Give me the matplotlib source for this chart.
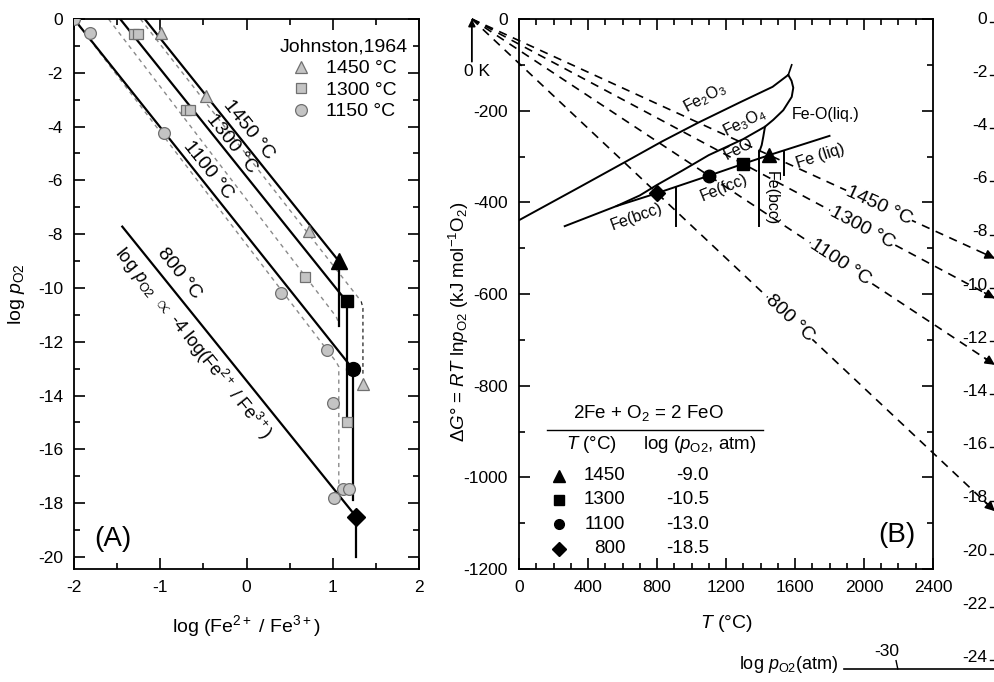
import numpy as np
import matplotlib
matplotlib.use('Agg')
import matplotlib.pyplot as plt
from matplotlib.ticker import MultipleLocator

plt.rcParams['font.family'] = ['Liberation Sans', 'DejaVu Sans']
plt.rcParams['mathtext.fontset'] = 'custom'
plt.rcParams['mathtext.rm'] = 'Liberation Sans'
plt.rcParams['mathtext.it'] = 'Liberation Sans:italic'
plt.rcParams['mathtext.bf'] = 'Liberation Sans:bold'
plt.rcParams['axes.linewidth'] = 1.3
plt.rcParams['axes.unicode_minus'] = False

# ---------------- Panel A data ----------------
line_labels = ['1450 °C', '1300 °C', '1100 °C', '800 °C']
solid_x0 = [-1.18, -1.465, -2.0, -1.44]
solid_y0 = [0.0, 0.0, 0.0, -7.72]
solid_x1 = [1.07, 1.16, 1.23, 1.27]
solid_y1 = [-9.0, -10.5, -13.0, -18.5]
bar_bottom = [-11.4, -15.0, -17.9, -20.0]
black_markers = ['^', 's', 'o', 'D']

tri_x = [-0.99, -0.47, 0.72, 1.35]
tri_y = [-0.53, -2.85, -7.87, -13.57]
sq_x = [-1.30, -1.26, -0.70, -0.65, 0.68, 1.16]
sq_y = [-0.57, -0.57, -3.39, -3.39, -9.58, -15.0]
ci_x = [-2.0, -1.82, -0.96, 0.40, 0.93, 1.0, 1.12, 1.19, 1.01]
ci_y = [0.0, -0.53, -4.25, -10.2, -12.3, -14.26, -17.47, -17.47, -17.82]

guide1450_x = [-1.23, 1.33]
guide1450_y = [0.0, -10.5]
guide1450v_x = [1.33, 1.35, 1.35]
guide1450v_y = [-10.5, -10.75, -13.3]
guide1300_x = [-1.6, 1.04, 1.07]
guide1300_y = [0.0, -11.07, -11.3]
guide1150_x = [-2.0, 1.04, 1.07, 1.07]
guide1150_y = [0.0, -12.75, -12.93, -17.4]

legend_labels = ['1450 °C', '1300 °C', '1150 °C']

# ---------------- Panel B data ----------------
T_pts = [1450, 1300, 1100, 800]
logp_pts = [-9.0, -10.5, -13.0, -18.5]
B_line_labels = ['1450 °C', '1300 °C', '1100 °C', '800 °C']
B_label_T = [2087, 1988, 1861, 1571]

upper_T = [0, 350, 620, 830, 1040, 1280, 1470, 1561]
upper_G = [-439, -367, -311, -267, -226, -182, -148, -122]
liq_T = [1561, 1580, 1590, 1581, 1532, 1474, 1426, 1416, 1407, 1393]
liq_G = [-122, -135, -150, -170, -199, -220, -235, -257, -275, -290]
mid_T = [566, 700, 800, 950, 1100, 1300, 1426]
mid_G = [-408, -385, -362, -330, -297, -262, -235]
low_T = [265, 566, 800, 1100, 1300, 1450, 1800]
low_G = [-452, -408, -380, -342, -316, -297, -255]
trans_T = [912, 1393, 1538]
trans_Gtop = [-366, -290, -290]
trans_Gbot = [-452, -452, -340]

right_scale = list(range(0, -26, -2))

R = 8.314e-3
LN10 = np.log(10.0)

W, H = 995, 682
fig = plt.figure(figsize=(W / 100, H / 100), dpi=100)

def ax_rect(l, r, t, b):
    return [l / W, (H - b) / H, (r - l) / W, (b - t) / H]

axA = fig.add_axes(ax_rect(74, 419, 19, 569))
axB = fig.add_axes(ax_rect(519, 933, 19, 569))

TICK_FS = 12.5

# ================= Panel A =================
axA.set_xlim(-2, 2)
axA.set_ylim(-20.45, 0)

gray_face = '#c4c4c4'
gray_edge = '#707070'

axA.plot(guide1450_x, guide1450_y, ls=(0, (3, 3)), color='#8a8a8a', lw=1.0, zorder=1)
axA.plot(guide1450v_x, guide1450v_y, ls=(0, (3, 2.5)), color='#222222', lw=0.9, zorder=1)
axA.plot(guide1300_x, guide1300_y, ls=(0, (3, 3)), color='#8a8a8a', lw=1.0, zorder=1)
axA.plot(guide1150_x, guide1150_y, ls=(0, (3, 3)), color='#8a8a8a', lw=1.0, zorder=1)

for i in range(4):
    axA.plot([solid_x0[i], solid_x1[i]], [solid_y0[i], solid_y1[i]], color='k', lw=1.6, zorder=2)
    axA.plot([solid_x1[i], solid_x1[i]], [solid_y1[i], bar_bottom[i]], color='k', lw=1.6, zorder=2)

h1, = axA.plot(tri_x, tri_y, ls='none', marker='^', ms=9, mfc=gray_face, mec=gray_edge, mew=0.9, zorder=3)
h2, = axA.plot(sq_x, sq_y, ls='none', marker='s', ms=7.5, mfc=gray_face, mec=gray_edge, mew=0.9, zorder=3)
h3, = axA.plot(ci_x, ci_y, ls='none', marker='o', ms=8.5, mfc=gray_face, mec=gray_edge, mew=0.9, zorder=3)

for i in range(4):
    ms = {'^': 11, 's': 9, 'o': 10, 'D': 9}[black_markers[i]]
    axA.plot([solid_x1[i]], [solid_y1[i]], ls='none', marker=black_markers[i], ms=ms,
             mfc='k', mec='k', zorder=4)

leg = axA.legend([h1, h2, h3], legend_labels, title='Johnston,1964', loc='upper right',
                 bbox_to_anchor=(1.0, 0.985), frameon=False, fontsize=14, title_fontsize=14,
                 handletextpad=0.7, labelspacing=0.2, borderaxespad=0.2, handlelength=1.2,
                 alignment='center')

fig.canvas.draw()
p0 = axA.transData.transform((0, 0))
p1 = axA.transData.transform((1, -4))
angA = np.degrees(np.arctan2(p1[1] - p0[1], p1[0] - p0[0]))

lab_xy = [(0.03, -4.13), (-0.176, -4.62), (-0.44, -5.61), (-0.775, -9.45)]
for (x, y), t in zip(lab_xy, line_labels):
    axA.text(x, y, t, rotation=angA, rotation_mode='anchor', ha='center', va='center', fontsize=14)
axA.text(-0.62, -12.06, r'log $p_{\mathrm{O2}}$ $\propto$ -4 log(Fe$^{2+}$ / Fe$^{3+}$)',
         rotation=angA, rotation_mode='anchor', ha='center', va='center', fontsize=13)
axA.text(-1.55, -19.35, '(A)', fontsize=20, ha='center', va='center')

axA.set_xticks([-2, -1, 0, 1, 2])
axA.xaxis.set_minor_locator(MultipleLocator(0.5))
axA.set_yticks(np.arange(0, -21, -2))
axA.yaxis.set_minor_locator(MultipleLocator(1))
axA.tick_params(which='both', direction='in', top=True, right=True, labelsize=TICK_FS, width=1.2)
axA.tick_params(which='major', length=8, pad=8)
axA.tick_params(which='minor', length=4)
axA.set_xlabel(r'log (Fe$^{2+}$ / Fe$^{3+}$)', fontsize=14, labelpad=13)
axA.set_ylabel(r'log $p_{\mathrm{O2}}$', fontsize=14)
axA.yaxis.set_label_coords(-0.135, 0.5)

# ================= Panel B =================
axB.set_xlim(0, 2400)
axB.set_ylim(-1200, 0)

T_end = 2759.0
T0K = -273.15
G_pts = [R * (t + 273.15) * LN10 * lp for t, lp in zip(T_pts, logp_pts)]

fig.canvas.draw()
for i in range(4):
    lp = logp_pts[i]
    Gend = R * (T_end + 273.15) * LN10 * lp
    axB.plot([T0K, T_end], [0, Gend], color='k', lw=1.2, ls=(0, (5, 4)), clip_on=False, zorder=2)
    Tb = T_end - 60
    Gb = R * (Tb + 273.15) * LN10 * lp
    axB.annotate('', xy=(T_end, Gend), xytext=(Tb, Gb), annotation_clip=False,
                 arrowprops=dict(arrowstyle='-|>', color='k', lw=1.2, mutation_scale=14,
                                 shrinkA=0, shrinkB=0))
    Tl = B_label_T[i]
    Gl = R * (Tl + 273.15) * LN10 * lp
    q0 = axB.transData.transform((T0K, 0))
    q1 = axB.transData.transform((T_end, Gend))
    ang = np.degrees(np.arctan2(q1[1] - q0[1], q1[0] - q0[0]))
    axB.text(Tl, Gl, B_line_labels[i], rotation=ang, rotation_mode='anchor', ha='center',
             va='center', fontsize=14, zorder=5,
             bbox=dict(facecolor='white', edgecolor='none', pad=0.5))

axB.plot(upper_T, upper_G, color='k', lw=1.4, zorder=3)
axB.plot([1561, 1581], [-122, -100], color='k', lw=1.2, zorder=3)
axB.plot(liq_T, liq_G, color='k', lw=1.4, zorder=3)
axB.plot(mid_T, mid_G, color='k', lw=1.4, zorder=3)
axB.plot(low_T, low_G, color='k', lw=1.4, zorder=3)
for t, g0, g1 in zip(trans_T, trans_Gtop, trans_Gbot):
    axB.plot([t, t], [g0, g1], color='k', lw=1.4, zorder=3)

for t, g, m in zip(T_pts, G_pts, black_markers):
    ms = {'^': 10, 's': 8.5, 'o': 9, 'D': 8.5}[m]
    axB.plot([t], [g], ls='none', marker=m, ms=ms, color='k', zorder=6)

axB.text(1078, -173, r'Fe$_2$O$_3$', rotation=28, ha='center', va='center', fontsize=11.5)
axB.text(1310, -225, r'Fe$_3$O$_4$', rotation=26, ha='center', va='center', fontsize=11.5)
axB.text(1271, -284, 'FeO', rotation=27, ha='center', va='center', fontsize=11.5)
axB.text(1776, -209, 'Fe-O(liq.)', ha='center', va='center', fontsize=11.5)
axB.text(1746, -300, 'Fe (liq)', rotation=18, ha='center', va='center', fontsize=11.5)
axB.text(682, -431, 'Fe(bcc)', rotation=20, ha='center', va='center', fontsize=11.5)
axB.text(1186, -369, 'Fe(fcc)', rotation=22, ha='center', va='center', fontsize=11.5)
axB.text(1464, -391, 'Fe(bcc)', rotation=270, ha='center', va='center', fontsize=11.5)

axB.annotate('', xy=(T0K, 0), xytext=(T0K, -93), annotation_clip=False,
             arrowprops=dict(arrowstyle='-|>', color='k', lw=1.3, mutation_scale=10,
                             shrinkA=0, shrinkB=0))
axB.text(-243, -115, '0 K', ha='center', va='center', fontsize=12.5, clip_on=False)

for v in right_scale:
    g = R * (T_end + 273.15) * LN10 * v
    axB.plot([T_end - 30, T_end], [g - 6, g - 6], color='k', lw=1.0, clip_on=False)
    axB.text(T_end - 45, g, f'{v}', ha='right', va='center', fontsize=12.5, clip_on=False)

G_bot = -1418
axB.plot([1884, T_end + 10], [G_bot, G_bot], color='k', lw=1.2, clip_on=False)
T30 = -G_bot / (R * LN10 * 30) - 273.15
axB.plot([T30, T30 - 10], [G_bot, G_bot + 18], color='k', lw=1.0, clip_on=False)
axB.text(2130, -1381, '-30', ha='center', va='center', fontsize=12.5, clip_on=False)
axB.text(1849, -1409, r'log $p_{\mathrm{O2}}$(atm)', ha='right', va='center', fontsize=13, clip_on=False)

axB.text(752, -860, r'2Fe + O$_2$ = 2 FeO', ha='center', va='center', fontsize=13.5)
axB.plot([162, 1414], [-897, -897], color='k', lw=1.0)
axB.text(423, -929, r'$T$ (°C)', ha='center', va='center', fontsize=13.5)
axB.text(1049, -929, r'log ($p_{\mathrm{O2}}$, atm)', ha='center', va='center', fontsize=13.5)
row_G = [-996, -1049, -1102, -1156]
for m, t, lp, g in zip(black_markers, T_pts, logp_pts, row_G):
    ms = {'^': 8.5, 's': 6.5, 'o': 7, 'D': 7.5}[m]
    axB.plot([231], [g], ls='none', marker=m, ms=ms, color='k')
    axB.text(617, g, f'{t}', ha='right', va='center', fontsize=13.5)
    axB.text(1101, g, f'{lp:.1f}', ha='right', va='center', fontsize=13.5)

axB.text(2189, -1126, '(B)', fontsize=20, ha='center', va='center')

axB.set_xticks(np.arange(0, 2401, 400))
axB.xaxis.set_minor_locator(MultipleLocator(100))
axB.set_yticks(np.arange(-1200, 1, 200))
axB.yaxis.set_minor_locator(MultipleLocator(100))
axB.tick_params(which='both', direction='in', top=True, right=True, labelsize=TICK_FS, width=1.2)
axB.tick_params(which='major', length=8, pad=8)
axB.tick_params(which='minor', length=4)
axB.set_xlabel(r'$T$ (°C)', fontsize=14, labelpad=13)
axB.set_ylabel(r'$\Delta G$° = $RT$ ln$p_{\mathrm{O2}}$ (kJ mol$^{-1}$O$_2$)', fontsize=13.5)
axB.yaxis.set_label_coords(-0.115, 0.45)

fig.savefig('out.png', dpi=100)
